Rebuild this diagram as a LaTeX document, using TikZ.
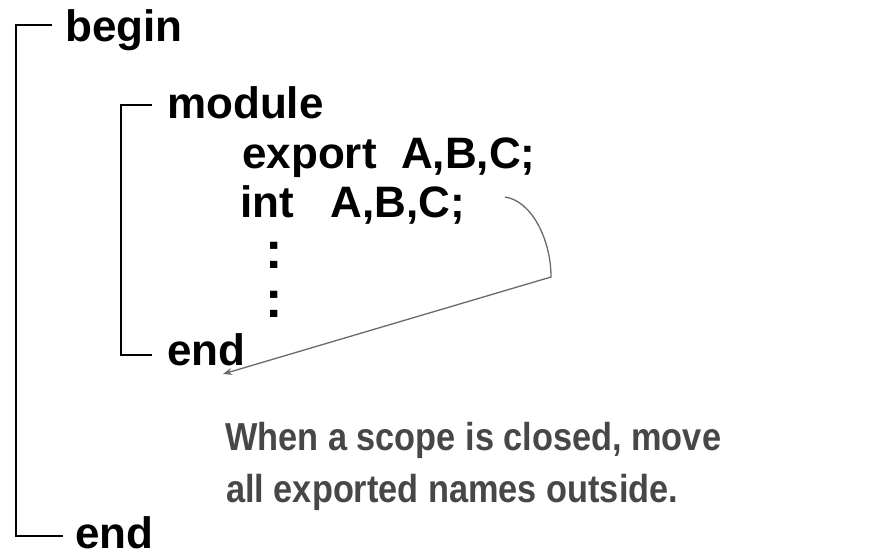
\documentclass[tikz,border=0pt]{standalone}
\usepackage{fontspec}
\setmainfont{Liberation Sans}
\newfontfamily\capfont[FakeStretch=0.88]{Liberation Sans}
\usetikzlibrary{arrows.meta}
\definecolor{capgray}{HTML}{474747}
\definecolor{arrgray}{HTML}{6A6A6A}
\begin{document}
\begin{tikzpicture}[x=1pt,y=-1pt,
  code/.style={anchor=base west,inner sep=0pt,font=\fontsize{44}{48}\selectfont\bfseries},
  dots/.style={anchor=base west,inner sep=0pt,font=\fontsize{52}{56}\selectfont\bfseries},
  caption/.style={anchor=base west,inner sep=0pt,text=capgray,font=\capfont\fontsize{39}{44}\selectfont\bfseries},
  bracket/.style={line width=1.8pt,black},
  arr/.style={line width=1.3pt,arrgray}]
\useasboundingbox (0,0) rectangle (890,556);
\fill[white] (0,0) rectangle (890,556);
% text
\node[code] (begin) at (65,42) {begin};
\node[code] (module) at (167,119) {module};
\node[code] (export) at (242,168) {export\ \ A,B,C;};
\node[code] (int) at (240,217) {int\ \ \ A,B,C;};
\node[dots] (c1) at (265,268) {:};
\node[dots] (c2) at (265,317) {:};
\node[code] (iend) at (167,365) {end};
\node[code] (oend) at (75,548) {end};
\node[caption] (cap1) at (225,450) {When a scope is closed, move};
\node[caption] (cap2) at (226,502) {all exported names outside.};
% brackets
\coordinate (ot) at (52,25);
\coordinate (ob) at (63,536);
\coordinate (it) at (152,105);
\coordinate (ib) at (152,355);
\draw[bracket] (ot) -- (16,25) -- (16,536) -- (ob);
\draw[bracket] (it) -- (121,105) -- (121,355) -- (ib);
% arrow
\coordinate (as) at (505,197);
\coordinate (ac) at (551,277);
\coordinate (ae) at (223,374);
\draw[arr,-{Stealth[length=9pt,width=7pt]}] (as) .. controls (532,201) and (551,240) .. (ac) -- (ae);
\end{tikzpicture}
\end{document}
